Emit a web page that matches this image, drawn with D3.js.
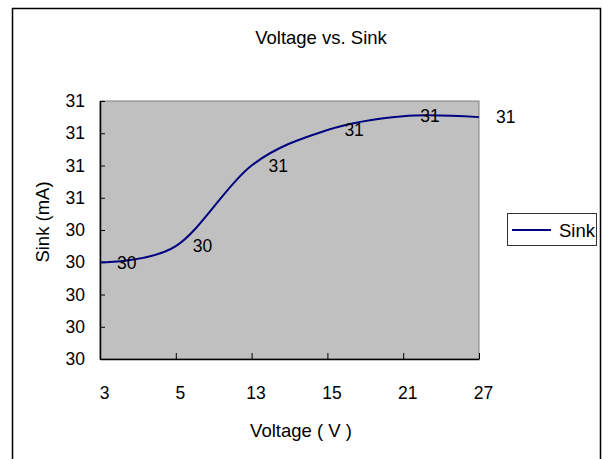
<!DOCTYPE html>
<html><head><meta charset="utf-8">
<script src="https://cdn.jsdelivr.net/npm/d3@7"></script>
<style>
html,body{margin:0;padding:0;background:#fff;}
svg text{font-family:"Liberation Sans",Arial,sans-serif;fill:#000;}
</style></head>
<body>
<svg id="c" width="603" height="459"></svg>
<script>
const categories = ["3","5","13","15","21","27"];
const sinkValues = [30.30, 30.35, 30.60, 30.71, 30.753, 30.75];
const yTicks = [30.0,30.1,30.2,30.3,30.4,30.5,30.6,30.7,30.8];
const title = "Voltage vs. Sink";
const xTitle = "Voltage ( V )";
const yTitle = "Sink (mA)";
const seriesName = "Sink";

const svg = d3.select("#c");
const fs = 17.5, fsT = 18.5;
// chart border
svg.append("path").attr("d","M12.5,470 V8.5 H600.5 V470").attr("fill","none").attr("stroke","#000").attr("stroke-width",1.5);

const L=100, R=479, T=101, B=359;
const x = d3.scalePoint().domain(categories).range([L,R]).padding(0);
const y = d3.scaleLinear().domain([30,30.8]).range([B,T]);

svg.append("rect").attr("x",L).attr("y",T).attr("width",R-L).attr("height",B-T)
  .attr("fill","#c0c0c0").attr("stroke","#808080").attr("stroke-width",1);

// axes
const yAxis = d3.axisLeft(y).tickValues(yTicks).tickSizeInner(-5).tickSizeOuter(0).tickPadding(15)
  .tickFormat(d=>String(Math.round(d)));
const gy = svg.append("g").attr("transform",`translate(${L},0)`).call(yAxis);
gy.select(".domain").attr("stroke","#000").attr("stroke-width",1.5);
gy.selectAll(".tick line").attr("stroke","#000");
gy.selectAll("text").attr("font-size",fs).attr("x",-15);

const xAxis = d3.axisBottom(x).tickSizeInner(-6).tickSizeOuter(0).tickPadding(0);
const gx = svg.append("g").attr("transform",`translate(0,${B})`).call(xAxis);
gx.select(".domain").attr("stroke","#000").attr("stroke-width",1.5);
gx.selectAll(".tick line").attr("stroke","#000");
gx.selectAll("text").attr("font-size",fs).attr("dx",4).attr("y",40).attr("dy",0);

// line
const line = d3.line().x((d,i)=>x(categories[i])).y(d=>y(d)).curve(d3.curveCardinal.tension(0));
svg.append("path").datum(sinkValues).attr("d",line).attr("fill","none")
  .attr("stroke","#000080").attr("stroke-width",2);

// data labels
svg.selectAll(".dl").data(sinkValues).enter().append("text")
  .attr("x",(d,i)=>x(categories[i])+17).attr("y",d=>y(d)).attr("dy","0.36em")
  .attr("font-size",fs).text(d=>String(Math.round(d)));

// titles
svg.append("text").attr("x",321).attr("y",44).attr("text-anchor","middle").attr("font-size",fsT).text(title);
svg.append("text").attr("x",301).attr("y",437).attr("text-anchor","middle").attr("font-size",fsT).text(xTitle);
svg.append("text").attr("transform","translate(49,222) rotate(-90)").attr("text-anchor","middle").attr("font-size",fsT).text(yTitle);

// legend
const lg = svg.append("g");
lg.append("rect").attr("x",507.5).attr("y",213.5).attr("width",89).attr("height",32)
  .attr("fill","#fff").attr("stroke","#333").attr("stroke-width",1);
lg.append("line").attr("x1",512).attr("x2",551).attr("y1",230).attr("y2",230).attr("stroke","#000080").attr("stroke-width",2);
lg.append("text").attr("x",559).attr("y",230).attr("dy","0.36em").attr("font-size",fsT).text(seriesName);
</script>
</body></html>
